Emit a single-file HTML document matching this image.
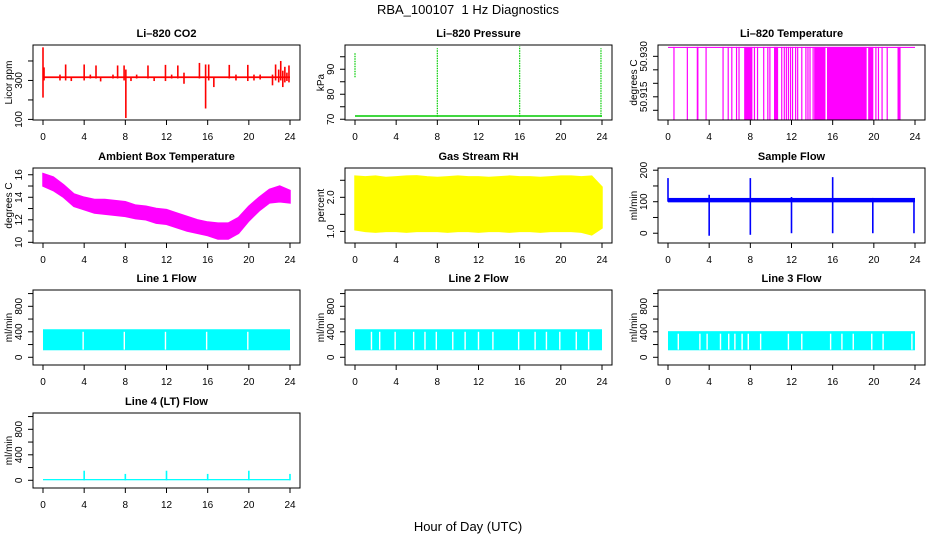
<!DOCTYPE html>
<html><head><meta charset="utf-8"><style>
html,body{margin:0;padding:0;background:#fff;}
svg{display:block;font-family:"Liberation Sans",sans-serif;}
</style></head><body>
<svg id="fig" width="936" height="540" viewBox="0 0 936 540">
<text x="468" y="14" text-anchor="middle" font-size="13" xml:space="preserve">RBA_100107  1 Hz Diagnostics</text>
<text x="468" y="531" text-anchor="middle" font-size="13">Hour of Day (UTC)</text>
</svg>
<script>
// ---- data ----
const xTicks = [0,4,8,12,16,20,24];
const hours = [0,1,2,3,4,5,6,7,8,9,10,11,12,13,14,15,16,17,18,19,20,21,22,23,24];
// CO2
const co2Base = [312, 321];
const co2Spikes = [[0,212,470],[0.1,300,367],[1.65,300,330],[2.2,300,382],[2.75,297,320],[4.0,300,382],[4.6,310,330],[5.15,310,377],[5.6,295,320],[6.8,310,330],[7.25,310,377],[7.88,300,377],[8.05,107,356],[8.55,297,320],[9.1,310,330],[10.2,310,377],[10.8,297,320],[11.9,297,380],[12.5,310,330],[13.1,310,377],[13.7,283,340],[15.2,310,390],[15.8,156,382],[16.1,300,382],[16.6,266,320],[18.1,310,380],[18.75,300,330],[19.9,297,380],[20.5,300,330],[21.1,305,330],[22.3,275,330],[22.6,300,382],[22.9,290,356],[23.1,300,400],[23.3,266,350],[23.5,290,370],[23.7,297,340],[23.9,290,377]];
// Pressure
const presBase = [71.0, 71.6];
const presSpikes = [[0,86.8,96.4],[8.0,71,98.4],[16.0,71,99.2],[23.9,71,98.4]];
// Li-820 temperature
const tempTop = 50.9335, tempLow = 50.9065;
const tempDips = [0.58,1.88,2.85,2.9,3.7,5.35,5.85,6.2,6.66,6.9,8.4,8.7,9.3,9.7,9.9,11.05,11.3,11.5,11.7,11.9,12.1,12.4,12.6,13.0,13.4,13.6,13.8,14.1,20.2,20.45,20.8,21.3];
const tempBands = [[7.4,8.2],[10.3,10.7],[14.2,15.3],[15.45,19.3],[19.45,19.95],[22.3,22.6]];
// Ambient box temperature envelope
const ambHi = [16.1,15.8,15.1,14.3,14.0,13.8,13.8,13.7,13.6,13.3,13.2,13.0,12.9,12.6,12.3,12.0,11.8,11.7,11.7,12.2,13.2,14.0,14.7,15.0,14.6];
const ambLo = [15.0,14.6,14.0,13.2,12.9,12.6,12.5,12.4,12.3,12.1,12.0,11.7,11.6,11.3,11.0,10.8,10.6,10.3,10.3,10.8,11.9,12.8,13.5,13.6,13.5];
// Gas stream RH envelope
const rhHi = [2.62,2.6,2.62,2.58,2.6,2.62,2.63,2.6,2.58,2.6,2.62,2.6,2.6,2.58,2.6,2.62,2.6,2.6,2.58,2.6,2.62,2.62,2.6,2.62,2.3];
const rhLo = [1.05,1.0,0.98,1.0,1.0,0.98,1.0,1.0,1.0,0.98,1.0,1.0,0.98,1.0,1.0,0.98,1.0,1.0,0.98,1.0,1.0,1.0,0.98,0.9,1.1];
// Sample flow
const sfBase = [98, 112];
const sfSpikes = [[0,100,175],[4.0,-8,122],[8.0,-5,175],[12.0,0,115],[16.0,0,178],[19.9,0,112],[23.9,0,110]];
// Line flows
const l1Band = [110, 440], l2Band = [110, 440], l3Band = [110, 410];
const l1Gaps = [3.9,7.9,11.9,15.9,19.9];
const l2Gaps = [1.6,2.4,3.9,5.7,6.8,7.9,9.5,10.7,12.0,13.4,15.9,17.5,18.6,19.9,21.5,22.7];
const l3Gaps = [1.0,3.1,3.8,5.1,5.9,6.5,7.2,7.8,9.0,11.7,13.0,15.8,16.9,18.0,19.8,20.9,23.7];
const l4Base = [0, 20];
const l4Spikes = [[4,0,150],[8,0,100],[12,0,150],[16,0,100],[20,0,150],[24,0,100]];

// ---- drawing ----
const NS = "http://www.w3.org/2000/svg";
const svg = document.getElementById('fig');
function mk(tag, attrs, parent){
  const e = document.createElementNS(NS, tag);
  for (const k in attrs) e.setAttribute(k, attrs[k]);
  (parent || svg).appendChild(e);
  return e;
}
const colX = [33, 345, 658], rowY = [45, 168, 290, 413], W = 267, H = 75;

function panel(c, r, title, ylab, ymin, ymax, ticks, labels, slug){
  const L = colX[c], T = rowY[r];
  const g = mk('g', {});
  
  
  const sx = t => L + 10 + t / 24 * 247;
  const sy = v => T + H - (v - ymin) / (ymax - ymin) * H;
  const tt = mk('text', {x: L + W/2, y: T - 8, 'text-anchor': 'middle', 'font-size': 11, 'font-weight': 'bold'}, g);
  tt.textContent = title;
  
  
  const yl = mk('text', {x: 0, y: 0, transform: `translate(${L-21},${T+H/2}) rotate(-90)`, 'text-anchor': 'middle', 'font-size': 10}, g);
  yl.textContent = ylab;
  
  
  ticks.forEach(v => {
    const y = sy(v);
    const tk = mk('line', {x1: L-5, x2: L, y1: y, y2: y, stroke: '#000'}, g);
    
    
  });
  labels.forEach(v => {
    const y = sy(v.v);
    const lb = mk('text', {x: 0, y: 0, transform: `translate(${L-11},${y}) rotate(-90)`, 'text-anchor': 'middle', 'font-size': 10}, g);
    lb.textContent = v.t;
    
    
  });
  xTicks.forEach(t => {
    const x = sx(t);
    const tk = mk('line', {x1: x, x2: x, y1: T+H, y2: T+H+5, stroke: '#000'}, g);
    
    
    const lb = mk('text', {x: x, y: T+H+20, 'text-anchor': 'middle', 'font-size': 10}, g);
    lb.textContent = t;
    
    
  });
  const plot = mk('g', {}, g);
  
  
  return {g, plot, sx, sy, L, T, finish(){
    const b = mk('rect', {x: L, y: T, width: W, height: H, fill: 'none', stroke: '#000'}, g);
    
    
  }};
}
function vline(p, t, lo, hi, color, w, name){
  const e = mk('line', {x1: p.sx(t), x2: p.sx(t), y1: p.sy(lo), y2: p.sy(hi), stroke: color, 'stroke-width': w}, p.plot);
  
  
  return e;
}
function band(p, t0, t1, lo, hi, color, name){
  const e = mk('rect', {x: p.sx(t0), y: p.sy(hi), width: p.sx(t1)-p.sx(t0), height: p.sy(lo)-p.sy(hi), fill: color}, p.plot);
  
  
  return e;
}
function envelope(p, hi, lo, color, name){
  const pts = hours.map((h,i)=>p.sx(h)+','+p.sy(hi[i])).concat(hours.slice().reverse().map((h,j)=>p.sx(h)+','+p.sy(lo[hours.length-1-j])));
  const e = mk('polygon', {points: pts.join(' '), fill: color, stroke: color, 'stroke-width': 1.5}, p.plot);
  
  
}
const lab = arr => arr.map(v => ({v: v, t: String(v)}));

// CO2
let p = panel(0,0,'Li\u2013820 CO2','Licor ppm',97,482,[100,200,300,400],lab([100,300]),'co2');
band(p,0,24,co2Base[0],co2Base[1],'#f00','co2-baseline');
co2Spikes.forEach(s => vline(p,s[0],s[1],s[2],'#f00',1.6,'co2-spike'));
p.finish();

// Pressure
p = panel(1,0,'Li\u2013820 Pressure','kPa',69.7,99.7,[70,75,80,85,90,95],lab([70,80,90]),'pressure');
band(p,0,24,presBase[0],presBase[1],'#0c0','pressure-baseline');
presSpikes.forEach(s => vline(p,s[0],s[1],s[2],'#0c0',1.2,'pressure-spike').setAttribute('stroke-dasharray','1.5,1'));
p.finish();

// Li-820 Temperature
p = panel(2,0,'Li\u2013820 Temperature','degrees C',50.9064,50.9342,[50.910,50.915,50.920,50.925,50.930],[{v:50.915,t:'50.915'},{v:50.930,t:'50.930'}],'li820-temp');
band(p,0,24,tempTop-0.0004,tempTop,'#f0f','li820-temp-top');
tempDips.forEach(t => vline(p,t,tempLow,tempTop,'#f0f',1.2,'li820-temp-dip'));
tempBands.forEach(b => band(p,b[0],b[1],tempLow,tempTop,'#f0f','li820-temp-dense-band'));
p.finish();

// Ambient
p = panel(0,1,'Ambient Box Temperature','degrees C',9.94,16.6,[10,11,12,13,14,15,16],lab([10,12,14,16]),'ambient');
envelope(p,ambHi,ambLo,'#f0f','ambient-envelope');
p.finish();

// RH
p = panel(1,1,'Gas Stream RH','percent',0.66,2.86,[1.0,1.5,2.0,2.5],[{v:1,t:'1.0'},{v:2,t:'2.0'}],'rh');
envelope(p,rhHi,rhLo,'#ff0','rh-envelope');
p.finish();

// Sample flow
p = panel(2,1,'Sample Flow','ml/min',-31,207,[0,50,100,150,200],lab([0,100,200]),'sample-flow');
band(p,0,24,sfBase[0],sfBase[1],'#00f','sample-flow-baseline');
sfSpikes.forEach(s => vline(p,s[0],s[1],s[2],'#00f',1.6,'sample-flow-spike'));
p.finish();

// Line flows
function linePanel(c,r,title,slug,bandV,gaps){
  const q = panel(c,r,title,'ml/min',-121,1056,[0,200,400,600,800,1000],lab([0,400,800]),slug);
  band(q,0,24,bandV[0],bandV[1],'#0ff',slug+'-band');
  gaps.forEach(t => vline(q,t,bandV[0]+10,bandV[1]-40,'#fff',1.4,slug+'-gap'));
  q.finish();
}
linePanel(0,2,'Line 1 Flow','line1-flow',l1Band,l1Gaps);
linePanel(1,2,'Line 2 Flow','line2-flow',l2Band,l2Gaps);
linePanel(2,2,'Line 3 Flow','line3-flow',l3Band,l3Gaps);

p = panel(0,3,'Line 4 (LT) Flow','ml/min',-121,1056,[0,200,400,600,800,1000],lab([0,400,800]),'line4-flow');
band(p,0,24,l4Base[0],l4Base[1],'#0ff','line4-flow-baseline');
l4Spikes.forEach(s => vline(p,s[0],s[1],s[2],'#0ff',1.6,'line4-flow-spike'));
p.finish();
</script>
</body></html>
